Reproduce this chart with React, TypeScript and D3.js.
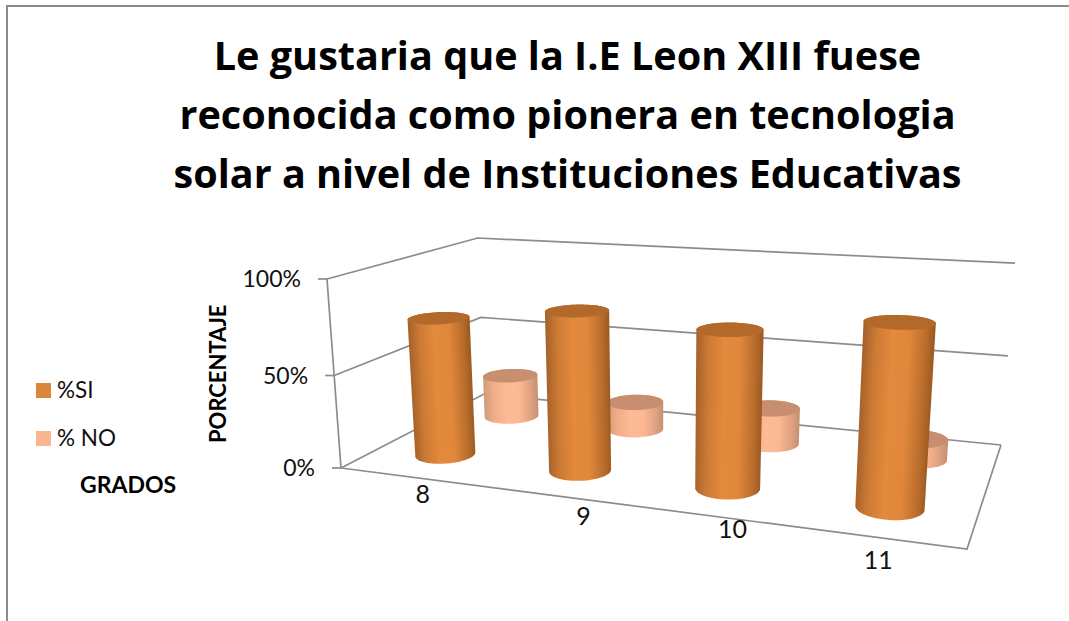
import React from "react";
import * as d3 from "d3";

const categories = ["8", "9", "10", "11"];
const siValues = [75, 84, 80, 89];
const noValues = [25, 16, 20, 11];
const yTicks = [0, 50, 100];
const seriesNames = ["%SI", "% NO"];
const titleLines = [
  "Le gustaria que la I.E Leon XIII fuese",
  "reconocida como pionera en tecnologia",
  "solar a nivel de Instituciones Educativas",
];

type P = [number, number];

const FL: P = [341, 468], FR: P = [967, 549], BR: P = [1001, 445], BL: P = [484, 394];
const TOPFL: P = [327, 279], TOPBR: P = [1015, 266];
const labelNudge: P[] = [[16, 26], [36, 30], [30, 23], [4, 32]];

// projective map of (u across, v depth, t height) computed from the corners of the plot box
const sx = FL[0] - FR[0] + BR[0] - BL[0], sy = FL[1] - FR[1] + BR[1] - BL[1];
const dx1 = FR[0] - BR[0], dx2 = BL[0] - BR[0], dy1 = FR[1] - BR[1], dy2 = BL[1] - BR[1];
const den = dx1 * dy2 - dx2 * dy1;
const g = (sx * dy2 - dx2 * sy) / den, h = (dx1 * sy - sx * dy1) / den;
const a = FR[0] - FL[0] + g * FR[0], b = BL[0] - FL[0] + h * BL[0];
const c = FR[1] - FL[1] + g * FR[1], d = BL[1] - FL[1] + h * BL[1];
const X1 = FL[0] + a + b, W1 = 1 + g + h;
const k = (X1 + TOPFL[0] - FL[0] - TOPBR[0] * W1) / (TOPBR[0] - TOPFL[0]);
const e = TOPFL[0] * (1 + k) - FL[0];
const f = TOPFL[1] * (1 + k) - FL[1];
const project = (u: number, v: number, t: number): P => {
  const w = 1 + g * u + h * v + k * t;
  return [(FL[0] + a * u + b * v + e * t) / w, (FL[1] + c * u + d * v + f * t) / w];
};

const uScale = d3.scaleBand<string>().domain(categories).range([0, 1]);
const vScale = d3.scaleBand<string>().domain(["si", "no"]).range([0, 1]);
const tScale = d3.scaleLinear().domain([0, 100]).range([0, 1]);
const RU = 0.05, RV = 0.105;

const line = d3.line<P>();
const pts = (...p: P[]) => line(p) as string;
const angles = d3.range(0, 72).map((i) => (i / 72) * 2 * Math.PI);

const palette = {
  si: { id: "si", stops: ["#a4602a", "#cc7a33", "#e38a3d", "#e0873b", "#b86c2b", "#9a5822"], top: "#b2692a" },
  no: { id: "no", stops: ["#cf9a78", "#f0ae88", "#fdbb95", "#fbb892", "#dca080", "#c4906f"], top: "#c78f6f" },
};

function Cylinder({ cat, value, row }: { cat: string; value: number; row: "si" | "no" }) {
  const uc = (uScale(cat) as number) + uScale.bandwidth() / 2;
  const vc = (vScale(row) as number) + vScale.bandwidth() / 2;
  const t = tScale(value);
  const ring = (tt: number): P[] =>
    angles.map((th) => project(uc + RU * Math.cos(th), vc + RV * Math.sin(th), tt));
  const base = ring(0), top = ring(t);
  const hull = d3.polygonHull([...base, ...top]) as P[];
  const bc = project(uc, vc, 0), tc = project(uc, vc, t);
  const ax = tc[0] - bc[0], ay = tc[1] - bc[1], al = Math.hypot(ax, ay);
  const nx = -ay / al, ny = ax / al;
  const flip = nx < 0 ? -1 : 1;
  const offs = hull.map((p) => ((p[0] - bc[0]) * nx + (p[1] - bc[1]) * ny) * flip);
  const mn = d3.min(offs) as number, mx = d3.max(offs) as number;
  const id = `g-${row}-${cat}`;
  const pal = palette[row];
  return (
    <g>
      <defs>
        <linearGradient
          id={id}
          gradientUnits="userSpaceOnUse"
          x1={bc[0] + nx * flip * mn}
          y1={bc[1] + ny * flip * mn}
          x2={bc[0] + nx * flip * mx}
          y2={bc[1] + ny * flip * mx}
        >
          {[0, 0.18, 0.42, 0.65, 0.88, 1].map((o, i) => (
            <stop key={o} offset={o} stopColor={pal.stops[i]} />
          ))}
        </linearGradient>
      </defs>
      <path d={line(hull) + "Z"} fill={`url(#${id})`} />
      <path d={line(top) + "Z"} fill={pal.top} />
    </g>
  );
}

export default function App() {
  const grid = "#8c8c8c";
  return (
    <svg
      width={1069}
      height={621}
      style={{ position: "absolute", left: 0, top: 0, background: "#fff", fontFamily: "Lato, Carlito, sans-serif" }}
    >
      <path d="M7,621V6H1069" fill="none" stroke="#8c8c8c" strokeWidth={2} />
      <text textAnchor="middle" fontSize={39.6} fontWeight={700} fill="#000" style={{ fontFamily: "'Open Sans', sans-serif" }}>
        {titleLines.map((l, i) => (
          <tspan key={l} x={567.5} y={70 + i * 59}>
            {l}
          </tspan>
        ))}
      </text>

      {/* walls */}
      {yTicks.map((v) => {
        const t = tScale(v);
        const p0 = project(0, 0, t), p1 = project(0, 1, t), p2 = project(1, 1, t);
        return (
          <g key={v}>
            <path d={pts(p0, p1, p2)} fill="none" stroke={grid} strokeWidth={1.7} />
            <path d={pts([p0[0] - 9, p0[1]], p0)} fill="none" stroke={grid} strokeWidth={1.7} />
            <text x={p0[0] - 26} y={p0[1] + 8} textAnchor="end" fontSize={23} fill="#111">
              {v}%
            </text>
          </g>
        );
      })}
      <path d={pts(project(0, 0, 0), project(0, 0, 1))} fill="none" stroke={grid} strokeWidth={1.7} />
      <path
        d={pts(project(0, 0, 0), project(1, 0, 0), project(1, 1, 0))}
        fill="none"
        stroke={grid}
        strokeWidth={1.7}
      />

      {categories.map((cat, i) => (
        <Cylinder key={cat} cat={cat} value={noValues[i]} row="no" />
      ))}
      {categories.map((cat, i) => (
        <Cylinder key={cat} cat={cat} value={siValues[i]} row="si" />
      ))}

      {categories.map((cat, i) => {
        const uc = (uScale(cat) as number) + uScale.bandwidth() / 2;
        const p = project(uc, 0, 0);
        return (
          <text key={cat} x={p[0] + labelNudge[i][0]} y={p[1] + labelNudge[i][1]} textAnchor="middle" fontSize={25} fill="#111">
            {cat}
          </text>
        );
      })}

      <text transform="translate(226,443) rotate(-90)" fontSize={22} fontWeight={700} fill="#000">
        PORCENTAJE
      </text>
      <rect x={36} y={383} width={15} height={15} fill="#dc853d" />
      <rect x={36} y={431} width={15} height={15} fill="#fbb58f" />
      <text x={57} y={398} fontSize={22.5} fill="#111">
        {seriesNames[0]}
      </text>
      <text x={57} y={446} fontSize={22.5} fill="#111">
        {seriesNames[1]}
      </text>
      <text x={80} y={493} fontSize={23} fontWeight={700} fill="#000">
        GRADOS
      </text>
    </svg>
  );
}
